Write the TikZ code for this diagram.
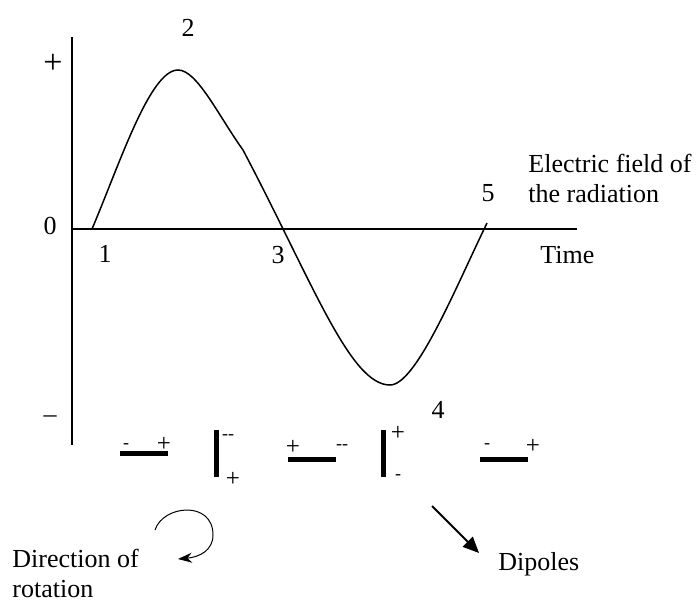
\documentclass[tikz,border=0pt]{standalone}
\usepackage{fontspec}
\setmainfont{Liberation Serif}
\usetikzlibrary{arrows.meta}

\begin{document}
\begin{tikzpicture}[
    x=0.5pt, y=-0.5pt,
    lbl/.style={inner sep=0pt, font=\fontsize{13}{15}\selectfont},
    sign/.style={inner sep=0pt, font=\fontsize{9}{10}\selectfont},
    plussign/.style={inner sep=0pt, font=\fontsize{12.5}{13}\selectfont},
    axis/.style={line width=1pt},
    wave/.style={line width=0.75pt},
    dipole/.style={line width=2.5pt}
]
\useasboundingbox (0,0) rectangle (699,600);

% Axes
\coordinate (ytop) at (72,37);
\coordinate (ybot) at (72,445);
\coordinate (origin) at (72,229);
\coordinate (xend) at (577,229);
\draw[axis] (ytop) -- (ybot);
\draw[axis] (origin) -- (xend);

\node[inner sep=0pt, font=\fontsize{17}{17}\selectfont] at (53,64) (plus) {+};
\node[lbl] at (50,226) (zero) {0};
\node[lbl] at (50,419) (minus) {--};
\node[lbl, anchor=west] at (540,255) (time) {Time};
\node[lbl, anchor=west, align=left] at (528,178) (field) {Electric field of\\the radiation};

% Wave
\coordinate (p1) at (92,229);
\coordinate (p2) at (178,70);
\coordinate (kink) at (243,150);
\coordinate (p4) at (390,385);
\coordinate (p5) at (487,223);
\draw[wave] (p1) .. controls (120,163) and (150,70) .. (p2)
    .. controls (197,70) and (218,115) .. (kink)
    .. controls (313,283) and (350,385) .. (p4)
    .. controls (416,385) and (455,289) .. (p5);

\node[lbl] at (105,254) (one) {1};
\node[lbl] at (188,28) (two) {2};
\node[lbl] at (278,255) (three) {3};
\node[lbl] at (438,410) (four) {4};
\node[lbl] at (488,193) (five) {5};

% Dipoles
\draw[dipole] (120,453) coordinate (d1a) -- (168,453) coordinate (d1b);
\node[sign] at (126,446) (d1m) {-};
\node[plussign] at (164,444) (d1p) {+};

\draw[dipole] (216,430) coordinate (d2a) -- (216,477) coordinate (d2b);
\node[sign] at (228,437) (d2m) {-{}-};
\node[plussign] at (233,479) (d2p) {+};

\draw[dipole] (288,459) coordinate (d3a) -- (336,459) coordinate (d3b);
\node[plussign] at (293,447) (d3p) {+};
\node[sign] at (342,447) (d3m) {-{}-};

\draw[dipole] (383,430) coordinate (d4a) -- (383,477) coordinate (d4b);
\node[plussign] at (398,433) (d4p) {+};
\node[sign] at (398,477) (d4m) {-};

\draw[dipole] (480,459) coordinate (d5a) -- (528,459) coordinate (d5b);
\node[sign] at (487,446) (d5m) {-};
\node[plussign] at (533,446) (d5p) {+};

% Rotation
\coordinate (rotstart) at (155,530);
\coordinate (rotside) at (213,535);
\coordinate (rotend) at (178,559);
\draw[line width=0.5pt, -{Stealth[length=7pt, width=5pt]}] (rotstart)
    .. controls (163,505) and (213,500) .. (rotside)
    .. controls (213,550) and (200,557) .. (rotend);
\node[lbl, anchor=west, align=left] at (12,573) (rotation) {Direction of\\rotation};

% Pointer
\coordinate (ptrstart) at (432,506);
\coordinate (ptrend) at (479,553);
\draw[line width=1pt, -{Triangle[length=8pt, width=7pt]}] (ptrstart) -- (ptrend);
\node[lbl, anchor=west] at (498,564) (dipoles) {Dipoles};

\end{tikzpicture}
\end{document}
